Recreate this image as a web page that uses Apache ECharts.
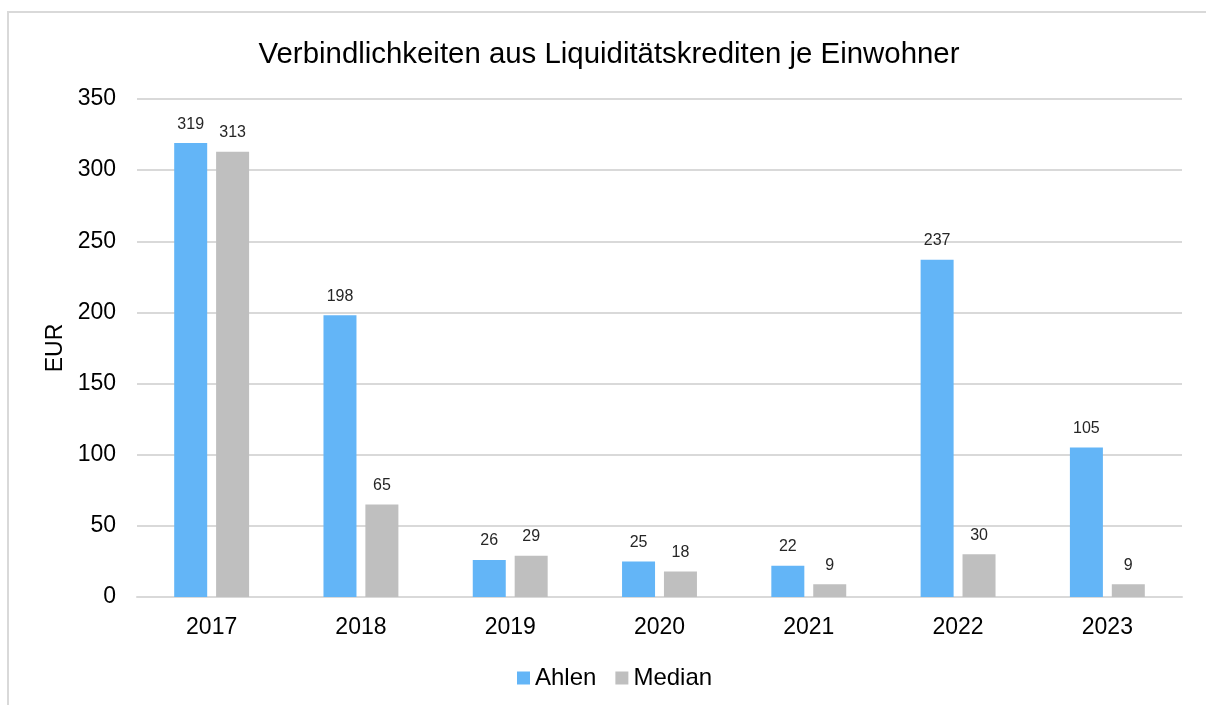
<!DOCTYPE html>
<html>
<head>
<meta charset="utf-8">
<script src="https://cdn.jsdelivr.net/npm/echarts@6/dist/echarts.min.js"></script>
<style>
  html, body { margin: 0; padding: 0; background: #fff; }
  #frame { position: absolute; left: 7px; top: 11px; width: 1210px; height: 710px;
           border-left: 2px solid #d9d9d9; border-top: 2px solid #d9d9d9; box-sizing: border-box; }
  #chart { position: absolute; left: 0; top: 0; width: 1206px; height: 705px; }
</style>
</head>
<body>
<div id="frame"></div>
<div id="chart"></div>
<script>
// Liquiditätskredite je Einwohner, Ahlen vs. Median
const years = ['2017', '2018', '2019', '2020', '2021', '2022', '2023'];
const ahlen = [319, 198, 26, 25, 22, 237, 105];
const median = [313, 65, 29, 18, 9, 30, 9];

const chart = echarts.init(document.getElementById('chart'), null, { renderer: 'canvas' });
const font = 'Liberation Sans, Arial, sans-serif';
const labelStyle = { show: true, position: 'top', distance: 11, fontSize: 16, color: '#262626', fontFamily: font };

chart.setOption({
  animation: false,
  title: {
    text: 'Verbindlichkeiten aus Liquiditätskrediten je Einwohner',
    left: 604, top: 35, textAlign: 'center',
    textStyle: { fontSize: 29.4, fontWeight: 'normal', color: '#000', fontFamily: font }
  },
  legend: {
    bottom: 10, left: 512, itemWidth: 13, itemHeight: 13, itemGap: 19,
    icon: 'rect',
    textStyle: { fontSize: 24, color: '#000', fontFamily: font },
    data: ['Ahlen', 'Median']
  },
  grid: { left: 137, right: 24, top: 99, bottom: 108 },
  xAxis: {
    type: 'category', data: years,
    axisLine: { lineStyle: { color: '#d9d9d9', width: 2 } },
    axisTick: { show: false },
    axisLabel: { fontSize: 23, color: '#000', fontFamily: font, margin: 19 }
  },
  yAxis: {
    type: 'value', min: 0, max: 350, interval: 50,
    name: 'EUR', nameLocation: 'middle', nameGap: 67, nameRotate: 90,
    nameTextStyle: { fontSize: 23, color: '#000', fontFamily: font },
    axisLine: { show: false }, axisTick: { show: false },
    axisLabel: { fontSize: 23, color: '#000', fontFamily: font, margin: 21 },
    splitLine: { lineStyle: { color: '#d9d9d9', width: 2 } }
  },
  series: [
    { name: 'Ahlen', type: 'bar', data: ahlen, barWidth: 33, barGap: '27%',
      itemStyle: { color: '#63b5f7' }, label: labelStyle },
    { name: 'Median', type: 'bar', data: median, barWidth: 33,
      itemStyle: { color: '#bfbfbf' }, label: labelStyle }
  ]
});
</script>
</body>
</html>
